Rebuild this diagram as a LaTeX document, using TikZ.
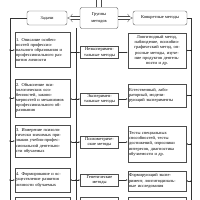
\documentclass[tikz,border=0pt]{standalone}
\usepackage{fontspec}
\setmainfont{Liberation Serif}
\usetikzlibrary{arrows.meta}
\newcommand\fsz{\fontsize{6.3}{7.3}\selectfont}
\tikzset{
  box/.style={draw=black!70, line width=0.5pt, inner sep=1.5pt, font=\fsz},
  hdr/.style={box, rounded corners=3pt, align=center},
  task/.style={box, text width=2.64cm, align=left},
  grp/.style={box, text width=1.8cm, align=center, minimum height=0.6cm},
  meth/.style={box, text width=2.8cm, align=left},
  link/.style={draw=black!80, line width=0.4pt},
  tip/.style={link, -{Latex[length=2.5pt,width=2pt]}},
  hollow/.style={draw=black!70, line width=0.4pt, double, double distance=4pt, -{Implies}},
  dot/.style={fill=black, circle, inner sep=0pt, minimum size=2pt},
}
\begin{document}
\begin{tikzpicture}[x=0.05cm, y=-0.05cm]
    \useasboundingbox (0,0) rectangle (200,200);
    % header row
    \node[hdr, minimum width=2cm, minimum height=0.7cm] (tasks) at (47,18) {Задачи};
    \node[hdr, minimum width=1.9cm, minimum height=1.05cm] (groups) at (99,18) {Группы\\[4pt]методов};
    \node[hdr, minimum width=2.7cm, minimum height=0.7cm] (concr) at (160,18) {Конкретные методы};
    \coordinate (top) at (99,0);
    \draw[draw=black!70, line width=0.4pt, double, double distance=7pt] (top) -- (groups.north);
    \draw[hollow] (groups.west) -- (tasks.east);
    \draw[hollow] (groups.east) -- (concr.west);
    % tasks
    \node[task, minimum height=1.75cm] (t1) at (42.5,50) {1. Описание особен-\\ностей профессио-\\нального образования и\\профессионального раз-\\вития личности};
    \node[task, minimum height=1.9cm] (t2) at (42.5,98) {2. Объяснение пси-\\хологических осо-\\бенностей, законо-\\мерностей и механизмов\\профессионального об-\\разования};
    \node[task, minimum height=1.6cm] (t3) at (42.5,141) {3. Измерение психоло-\\гически значимых при-\\знаков учебно-профес-\\сиональной деятельно-\\сти обучаемых};
    \node[task, minimum height=1.2cm] (t4) at (42.5,180) {4. Формирование и ос-\\уществление развития\\личности обучаемых};
    \node[task, minimum height=1.2cm, anchor=north] (t5) at (42.5,197) {};
    % groups of methods
    \node[grp] (g1) at (99.5,52.5) {Неэксперимен-\\тальные методы};
    \node[grp] (g2) at (99.5,99) {Эксперимен-\\тальные методы};
    \node[grp] (g3) at (99.5,142) {Психометриче-\\ские методы};
    \node[grp] (g4) at (99.5,180) {Генетические\\методы};
    \node[grp, anchor=north] (g5) at (99.5,197) {};
    % concrete methods
    \node[meth, align=center, minimum height=1.75cm] (m1) at (157,50.5) {Лонгитюдный метод,\\наблюдение, психобио-\\графический метод, оп-\\росные методы, изуче-\\ние продуктов деятель-\\ности и др.};
    \node[meth, minimum height=1.15cm] (m2) at (157,95.5) {Естественный, лабо-\\раторный, модели-\\рующий эксперименты};
    \node[meth, minimum height=1.8cm] (m3) at (157,144) {Тесты специальных\\способностей, тесты\\достижений, опросники\\интересов, диагностика\\обучаемости и др.};
    \node[meth, minimum height=1cm] (m4) at (157,181) {Формирующий экспе-\\римент, лонгитюдиналь-\\ные исследования};
    \node[meth, minimum height=1cm, anchor=north] (m5) at (157,197) {};
    % trunk lines
    \coordinate (lt) at (10,18);
    \coordinate (lb) at (10,200);
    \coordinate (rt) at (191,18);
    \coordinate (rb) at (191,200);
    \coordinate (ct) at (76,28);
    \coordinate (cb) at (76,200);
    \draw[link] (tasks.west) -- (lt) -- (lb);
    \draw[link] (concr.east) -- (rt) -- (rb);
    \draw[link] (ct) -- (cb);
    % row connectors
    \foreach \i in {1,...,4} {
        \draw[tip] (t\i.west -| lb) node[dot] {} -- (t\i.west);
        \draw[tip] (g\i.west -| cb) node[dot] {} -- (g\i.west -| t\i.east);
        \draw[tip] (g\i.west -| cb) -- (g\i.west);
        \draw[tip] (g\i.east) -- (g\i.east -| m\i.west);
        \draw[tip] (m\i.east -| rb) node[dot] {} -- (m\i.east);
    }
\end{tikzpicture}
\end{document}
